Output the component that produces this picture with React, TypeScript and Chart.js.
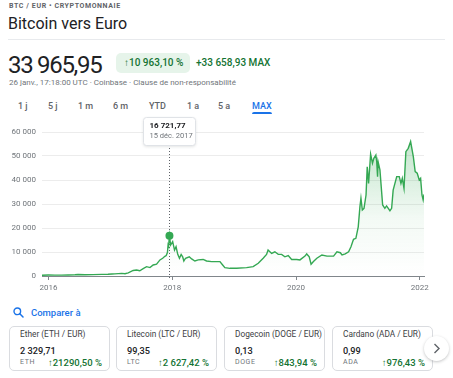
import React, { useEffect, useRef } from 'react';
import { Chart, registerables } from 'chart.js';

Chart.register(...registerables);

const NB = ' ';

// ---- data ----
const dates = [
  '2015-11-23', '2015-12-31', '2016-02-07', '2016-03-19', '2016-04-26', '2016-06-05', '2016-06-23',
  '2016-08-03', '2016-09-20', '2016-11-10', '2016-12-17', '2017-01-10', '2017-01-27', '2017-03-08',
  '2017-03-28', '2017-04-16', '2017-05-15', '2017-06-04', '2017-06-23', '2017-07-13', '2017-08-02',
  '2017-08-22', '2017-09-10', '2017-09-30', '2017-10-20', '2017-11-05', '2017-11-18', '2017-11-26',
  '2017-12-03', '2017-12-07', '2017-12-10', '2017-12-15', '2017-12-22', '2018-01-03', '2018-01-14',
  '2018-01-23', '2018-02-02', '2018-02-12', '2018-02-22', '2018-03-03', '2018-03-10', '2018-03-20',
  '2018-04-11', '2018-04-25', '2018-05-14', '2018-06-03', '2018-07-02', '2018-07-22', '2018-08-21',
  '2018-10-09', '2018-10-25', '2018-11-07', '2018-12-07', '2019-01-15', '2019-03-15', '2019-04-23',
  '2019-05-23', '2019-06-21', '2019-07-11', '2019-07-20', '2019-08-10', '2019-08-29', '2019-09-18',
  '2019-10-08', '2019-10-27', '2019-11-16', '2019-12-06', '2020-01-05', '2020-01-24', '2020-02-23',
  '2020-03-04', '2020-03-19', '2020-03-30', '2020-04-13', '2020-05-03', '2020-06-02', '2020-07-02',
  '2020-08-10', '2020-08-30', '2020-09-19', '2020-09-29', '2020-10-18', '2020-11-07', '2020-11-21',
  '2020-12-06', '2020-12-20', '2021-01-03', '2021-01-13', '2021-01-19', '2021-01-27', '2021-02-06',
  '2021-02-18', '2021-02-25', '2021-03-05', '2021-03-17', '2021-03-28', '2021-04-05', '2021-04-17',
  '2021-04-22', '2021-04-27', '2021-04-30', '2021-05-11', '2021-05-27', '2021-06-09', '2021-06-19',
  '2021-07-09', '2021-07-19', '2021-07-28', '2021-08-18', '2021-09-02', '2021-09-12', '2021-09-20',
  '2021-09-30', '2021-10-11', '2021-10-25', '2021-11-08', '2021-11-24', '2021-12-05', '2021-12-17',
  '2021-12-29', '2022-01-06', '2022-01-14', '2022-01-21', '2022-01-26',
];
const prices = [
  330, 400, 360, 370, 420, 520, 640,
  520, 560, 680, 760, 850, 870, 1100,
  950, 1300, 2300, 2500, 2200, 3100, 3900,
  3500, 4600, 4900, 6700, 7400, 8200, 8500,
  9800, 13000, 12500, 16721.77, 12900, 14300, 10800,
  12200, 9000, 7400, 9000, 8000, 6250, 7400,
  8000, 7100, 6250, 6700, 6900, 6250, 6000,
  6000, 4600, 3500, 3200, 3200, 3500, 3900,
  5300, 7400, 9000, 10800, 9400, 10100, 9000,
  9000, 8000, 8500, 6900, 6900, 6700, 8300,
  9200, 8000, 4900, 6000, 7400, 8750, 8300,
  8300, 10100, 9700, 8750, 9200, 10100, 12200,
  15300, 15700, 20500, 28900, 32400, 27500, 28200,
  33750, 45500, 38600, 50800, 47000, 49000, 50400,
  47600, 41400, 47600, 44200, 29600, 28200, 29200,
  27200, 28200, 35800, 41400, 41400, 38600, 40700,
  36500, 51800, 53200, 56000, 49700, 43500, 42800,
  40000, 40700, 33750, 31700, 33965.95,
];
const yTicks = [0, 10000, 20000, 30000, 40000, 50000, 60000];
const xTickYears = [2016, 2018, 2020, 2022];
const highlightDate = '2017-12-15';
const frMonths = ['janv.', 'févr.', 'mars', 'avr.', 'mai', 'juin', 'juil.', 'août', 'sept.', 'oct.', 'nov.', 'déc.'];

const tabs = ['1 j', '5 j', '1 m', '6 m', 'YTD', '1 a', '5 a', 'MAX'];
const tabLefts = [18, 48, 78, 113, 149, 187, 218, 252];

const cardNames = ['Ether (ETH / EUR)', 'Litecoin (LTC / EUR)', 'Dogecoin (DOGE / EUR)', 'Cardano (ADA / EUR)'];
const cardValues = ['2' + NB + '329,71', '99,35', '0,13', '0,99'];
const cardTickers = ['ETH', 'LTC', 'DOGE', 'ADA'];
const cardChanges = ['21290,50 %', '2' + NB + '627,42 %', '843,94 %', '976,43 %'];

const GREEN = '#34a853';
const TEXT_GREEN = '#137333';
const GRAY = '#70757a';
const FONT = 'Roboto, "Noto Sans", Arial, sans-serif';

function toYear(d: string): number {
  const [y, m, dd] = d.split('-').map(Number);
  const t = Date.UTC(y, m - 1, dd);
  const s = Date.UTC(y, 0, 1);
  const e = Date.UTC(y + 1, 0, 1);
  return y + (t - s) / (e - s);
}
function groupInt(s: string): string {
  return s.replace(/\B(?=(\d{3})+(?!\d))/g, NB);
}
function fmtPrice(v: number): string {
  const [i, f] = v.toFixed(2).split('.');
  return groupInt(i) + ',' + f;
}
function fmtDate(d: string): string {
  const [y, m, dd] = d.split('-').map(Number);
  return `${dd} ${frMonths[m - 1]} ${y}`;
}

const hi = dates.indexOf(highlightDate);

const BOX_TOP = 7;
const BOX_H = 28;
const BOX_W = 52;

const highlightPlugin = {
  id: 'highlight',
  beforeDatasetsDraw(chart: any) {
    const pt = chart.getDatasetMeta(0).data[hi];
    if (!pt) return;
    const { ctx, chartArea } = chart;
    const x = Math.round(pt.x) + 0.5;
    ctx.save();
    ctx.strokeStyle = '#5f6368';
    ctx.lineWidth = 1;
    ctx.setLineDash([1, 2]);
    ctx.beginPath();
    ctx.moveTo(x, BOX_TOP + BOX_H);
    ctx.lineTo(x, chartArea.bottom + 2);
    ctx.stroke();
    ctx.restore();
  },
  afterDatasetsDraw(chart: any) {
    const pt = chart.getDatasetMeta(0).data[hi];
    if (!pt) return;
    const { ctx } = chart;
    const left = Math.round(pt.x - BOX_W / 2) + 0.5;
    const top = BOX_TOP + 0.5;
    ctx.save();
    ctx.shadowColor = 'rgba(60,64,67,0.18)';
    ctx.shadowBlur = 3;
    ctx.shadowOffsetY = 1;
    ctx.fillStyle = '#fff';
    ctx.beginPath();
    ctx.roundRect(left, top, BOX_W, BOX_H, 3);
    ctx.fill();
    ctx.shadowColor = 'transparent';
    ctx.strokeStyle = '#e0e3e7';
    ctx.lineWidth = 1;
    ctx.stroke();
    ctx.textBaseline = 'middle';
    ctx.textAlign = 'left';
    ctx.fillStyle = '#202124';
    ctx.font = `bold 8px ${FONT}`;
    ctx.fillText(fmtPrice(prices[hi]), left + 6, top + 8.5);
    ctx.fillStyle = GRAY;
    ctx.font = `7.5px ${FONT}`;
    ctx.fillText(fmtDate(dates[hi]), left + 6, top + 18.5);
    ctx.restore();
  },
};

function PriceChart() {
  const ref = useRef<HTMLCanvasElement | null>(null);
  useEffect(() => {
    if (!ref.current) return;
    const chart = new Chart(ref.current, {
      type: 'line',
      data: {
        datasets: [
          {
            data: dates.map((d, i) => ({ x: toYear(d), y: prices[i] })),
            borderColor: GREEN,
            borderWidth: 1.4,
            tension: 0,
            fill: 'origin',
            backgroundColor: (c: any) => {
              const area = c.chart.chartArea;
              if (!area) return 'rgba(52,168,83,0.1)';
              const g = c.chart.ctx.createLinearGradient(0, area.top, 0, area.bottom);
              g.addColorStop(0, 'rgba(52,168,83,0.32)');
              g.addColorStop(0.6, 'rgba(52,168,83,0.06)');
              g.addColorStop(1, 'rgba(52,168,83,0)');
              return g;
            },
            pointRadius: dates.map((_, i) => (i === hi ? 4 : 0)),
            pointHoverRadius: 0,
            pointBackgroundColor: GREEN,
            pointBorderWidth: 0,
          } as any,
        ],
      },
      options: {
        animation: false,
        responsive: false,
        devicePixelRatio: 1,
        events: [],
        layout: { padding: { top: 22, right: 16, left: 0, bottom: 0 } },
        plugins: { legend: { display: false }, tooltip: { enabled: false } },
        scales: {
          x: {
            type: 'linear',
            min: toYear(dates[0]),
            max: toYear(dates[dates.length - 1]),
            afterBuildTicks: (s: any) => {
              s.ticks = xTickYears.map((v) => ({ value: v }));
            },
            afterFit: (s: any) => {
              s.height = 20;
            },
            grid: { display: true, drawOnChartArea: false, drawTicks: true, tickLength: 4, color: '#80868b', tickColor: '#80868b' },
            border: { display: true, color: '#80868b', width: 1 },
            ticks: {
              padding: 3,
              color: GRAY,
              font: { family: FONT, size: 8 },
              maxRotation: 0,
              autoSkip: false,
              callback: (v: any) => String(v),
            },
          },
          y: {
            min: 0,
            max: 60000,
            afterBuildTicks: (s: any) => {
              s.ticks = yTicks.map((v) => ({ value: v }));
            },
            afterFit: (s: any) => {
              s.width = 42;
            },
            grid: { color: '#ececec', drawTicks: false },
            border: { display: false },
            ticks: {
              padding: 6,
              color: GRAY,
              font: { family: FONT, size: 8 },
              callback: (v: any) => groupInt(String(v)),
            },
          },
        } as any,
      },
      plugins: [highlightPlugin],
    });
    return () => chart.destroy();
  }, []);
  return (
    <canvas
      ref={ref}
      width={440}
      height={186}
      style={{ position: 'absolute', left: 0, top: 110, width: 440, height: 186 }}
    />
  );
}

const abs = (o: React.CSSProperties): React.CSSProperties => ({
  position: 'absolute',
  whiteSpace: 'pre',
  lineHeight: 1,
  ...o,
});

export default function App() {
  const cardLefts = [9, 116, 224, 332];
  return (
    <div
      style={{
        position: 'absolute',
        left: 0,
        top: 0,
        width: 453,
        height: 378,
        background: '#fff',
        fontFamily: FONT,
        color: '#202124',
        overflow: 'hidden',
      }}
    >
      <div style={abs({ left: 9, top: 2.5, fontSize: 7, fontWeight: 700, letterSpacing: 0.6, color: '#5f6368' })}>
        BTC / EUR • CRYPTOMONNAIE
      </div>
      <div style={abs({ left: 8, top: 16, fontSize: 16, color: '#202124' })}>Bitcoin vers Euro</div>
      <div style={{ position: 'absolute', left: 8, top: 39, width: 437, height: 1, background: '#e8eaed' }} />

      <div style={abs({ left: 8, top: 52.5, fontSize: 24, letterSpacing: -1.3, color: '#202124' })}>
        {'33' + NB + '965,95'}
      </div>
      <div
        style={{
          position: 'absolute',
          left: 116,
          top: 53,
          width: 74,
          height: 20,
          borderRadius: 5,
          background: '#e6f4ea',
        }}
      />
      <div style={abs({ left: 124, top: 58, fontSize: 10, fontWeight: 500, color: TEXT_GREEN })}>
        {'↑10' + NB + '963,10 %'}
      </div>
      <div style={abs({ left: 196, top: 58, fontSize: 10, fontWeight: 500, color: TEXT_GREEN })}>
        {'+33' + NB + '658,93 MAX'}
      </div>
      <div style={abs({ left: 9, top: 79, fontSize: 8, color: GRAY })}>
        26 janv., 17:18:00 UTC · Coinbase · Clause de non-responsabilité
      </div>

      {tabs.map((t, i) => (
        <div
          key={t}
          style={abs({
            left: tabLefts[i],
            top: 102,
            fontSize: 9,
            fontWeight: 500,
            color: t === 'MAX' ? '#1a73e8' : '#5f6368',
          })}
        >
          {t}
        </div>
      ))}
      <div
        style={{
          position: 'absolute',
          left: 252,
          top: 112,
          width: 20,
          height: 2,
          borderRadius: '2px 2px 0 0',
          background: '#1a73e8',
        }}
      />

      <PriceChart />

      <svg style={{ position: 'absolute', left: 13, top: 307 }} width={11} height={11} viewBox="0 0 11 11">
        <circle cx={4.3} cy={4.3} r={3.3} fill="none" stroke="#1a73e8" strokeWidth={1.4} />
        <line x1={6.8} y1={6.8} x2={10} y2={10} stroke="#1a73e8" strokeWidth={1.5} strokeLinecap="round" />
      </svg>
      <div style={abs({ left: 31, top: 307.5, fontSize: 9.5, fontWeight: 500, color: '#1a73e8' })}>Comparer à</div>

      {cardNames.map((n, i) => (
        <div
          key={n}
          style={{
            position: 'absolute',
            left: cardLefts[i],
            top: 326,
            width: 101,
            height: 45,
            border: '1px solid #dadce0',
            borderRadius: 5,
            boxSizing: 'border-box',
          }}
        >
          <div style={abs({ left: 10, top: 3.3, fontSize: 8.3, color: '#3c4043' })}>{n}</div>
          <div style={abs({ left: 10, top: 18.5, fontSize: 9.2, fontWeight: 500, color: '#202124' })}>
            {cardValues[i]}
          </div>
          <div style={abs({ left: 10, top: 32, fontSize: 7, letterSpacing: 0.6, color: GRAY })}>{cardTickers[i]}</div>
          <div style={abs({ right: 7, top: 31, fontSize: 9.5, fontWeight: 500, color: TEXT_GREEN })}>
            {'↑' + cardChanges[i]}
          </div>
        </div>
      ))}

      <div
        style={{
          position: 'absolute',
          left: 424,
          top: 336,
          width: 25,
          height: 25,
          borderRadius: '50%',
          background: '#fff',
          boxShadow: '0 1px 3px rgba(60,64,67,0.3)',
        }}
      >
        <svg width={25} height={25} viewBox="0 0 25 25" style={{ position: 'absolute', left: 0, top: 0 }}>
          <polyline points="10.5,8 15,12.5 10.5,17" fill="none" stroke="#5f6368" strokeWidth={1.4} />
        </svg>
      </div>
    </div>
  );
}
